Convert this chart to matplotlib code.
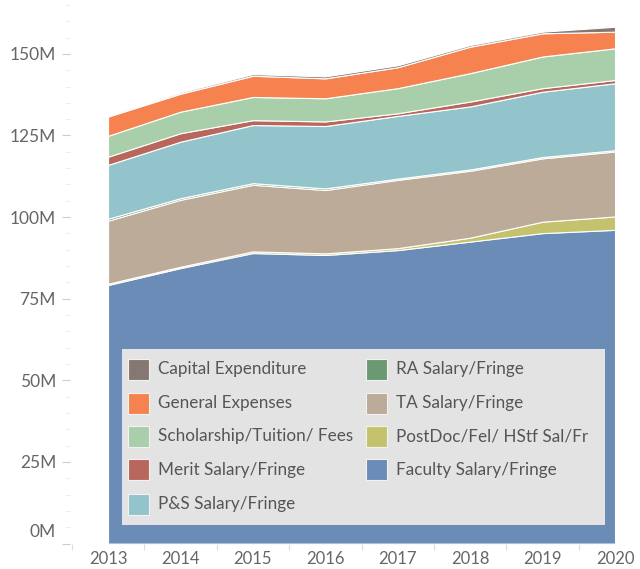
import numpy as np
import matplotlib
matplotlib.use("Agg")
import matplotlib.pyplot as plt
from matplotlib.patches import Rectangle
from matplotlib.transforms import ScaledTranslation
from matplotlib.ticker import FixedLocator, FuncFormatter

plt.rcParams['font.family'] = ['Lato', 'DejaVu Sans']

years = [2013, 2014, 2015, 2016, 2017, 2018, 2019, 2020]

# values in millions, stacked bottom -> top
faculty = [79.2, 84.4, 89.0, 88.4, 89.9, 92.5, 95.1, 96.1]
postdoc = [0.4, 0.4, 0.5, 0.5, 0.6, 1.2, 3.5, 4.1]
ta = [19.3, 20.5, 20.4, 19.4, 20.9, 20.5, 19.4, 19.9]
ra = [0.6, 0.5, 0.5, 0.5, 0.4, 0.4, 0.4, 0.4]
ps = [16.5, 17.3, 17.8, 19.1, 19.2, 19.3, 20.0, 20.5]
merit = [2.5, 2.6, 1.5, 1.4, 0.8, 1.5, 1.1, 1.0]
scholarship = [6.4, 6.6, 7.1, 7.1, 7.7, 8.7, 9.7, 9.7]
general = [5.9, 5.5, 6.5, 6.1, 6.4, 8.1, 7.1, 5.1]
capital = [0.3, 0.4, 0.5, 0.6, 0.6, 0.5, 0.5, 1.5]

series = [faculty, postdoc, ta, ra, ps, merit, scholarship, general, capital]
names = ['Faculty Salary/Fringe', 'PostDoc/Fel/ HStf Sal/Fr', 'TA Salary/Fringe',
         'RA Salary/Fringe', 'P&S Salary/Fringe', 'Merit Salary/Fringe',
         'Scholarship/Tuition/ Fees', 'General Expenses', 'Capital Expenditure']
colors = ['#6b8cb7', '#c5c26d', '#bbab98', '#6b9a72', '#93c3cb', '#b9675c',
          '#a8cfaa', '#f5824f', '#857872']

W, H = 640, 569
fig = plt.figure(figsize=(W / 100, H / 100), dpi=100)
ax = fig.add_axes([70 / W, 25.4 / H, 570 / W, 543.6 / H])

ax.stackplot(years, *series, colors=colors, edgecolor='white', linewidth=0.8)

ax.set_xlim(2012.475, 2020.345)
ax.set_ylim(0, 166.5)
for s in ax.spines.values():
    s.set_visible(False)

ax.set_xticks(years)
ax.xaxis.set_minor_locator(FixedLocator([y + 0.5 for y in years[:-1]] + [2012.5]))
ax.set_yticks([0, 25, 50, 75, 100, 125, 150])
ax.yaxis.set_major_formatter(FuncFormatter(lambda v, p: f'{int(v)}M'))
ax.yaxis.set_minor_locator(FixedLocator(np.arange(5, 166, 5)))
ax.tick_params(axis='x', which='major', length=0, pad=5, labelsize=12, labelcolor='#666666')
ax.tick_params(axis='x', which='minor', length=4, color='#dddddd', width=0.8)
ax.tick_params(axis='y', which='major', length=6, color='#cccccc', width=0.8, pad=4,
               labelsize=12.5, labelcolor='#666666')
ax.tick_params(axis='y', which='minor', length=3, color='#e6e6e6', width=0.6)

# Tableau nudges the bottom label up
zero = ax.get_yticklabels()[0]
zero.set_transform(zero.get_transform() + ScaledTranslation(0, 13 / 100, fig.dpi_scale_trans))


# legend drawn by hand in pixel space (y measured from top)
def px(x, y):
    return x / W, 1 - y / H


bx0, by0 = px(122, 525)
bx1, by1 = px(605, 349)
fig.patches.append(Rectangle((bx0, by0), bx1 - bx0, by1 - by0, transform=fig.transFigure,
                             facecolor='#e3e3e3', edgecolor='none', zorder=3))

order = [8, 7, 6, 5, 4, 3, 2, 1, 0]
rows = [369, 403, 436, 469.5, 504]
for k, i in enumerate(order):
    col, row = divmod(k, 5)
    x0 = 128 if col == 0 else 366
    yc = rows[row]
    rx, ry = px(x0, yc + 10.5)
    fig.patches.append(Rectangle((rx, ry), 21 / W, 21 / H, transform=fig.transFigure,
                                 facecolor=colors[i], edgecolor='#f2f2f2', linewidth=0.8,
                                 zorder=4))
    tx, ty = px(x0 + 30, yc)
    fig.text(tx, ty, names[i], fontsize=12.3, color='#555555', va='center', ha='left',
             zorder=5)

fig.savefig('out.png', dpi=100)
